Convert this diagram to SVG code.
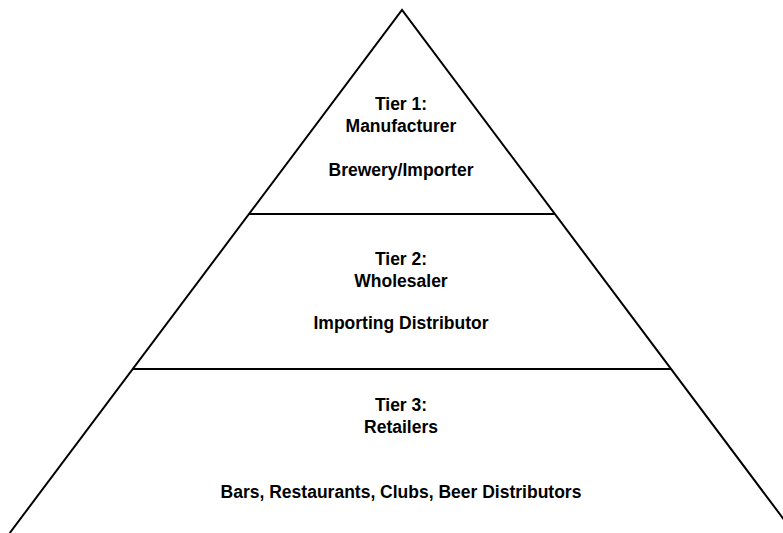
<svg xmlns="http://www.w3.org/2000/svg" width="783" height="533" viewBox="0 0 783 533">
<style>
.ln{stroke:#000;stroke-width:2;fill:none}
.t{font-family:"Liberation Sans",Arial,sans-serif;font-weight:bold;font-size:17.5px;text-anchor:middle;fill:#000}
</style>
<rect width="783" height="533" fill="#fff"/>
<g id="connectors">
<path class="ln" d="M9.75,533 L402,10 L794,533"/>
<line class="ln" x1="249" y1="214" x2="555" y2="214"/>
<line class="ln" x1="133" y1="369" x2="671" y2="369"/>
</g>
<g id="tier1">
<text class="t" x="401" y="110">Tier 1:</text>
<text class="t" x="401" y="132">Manufacturer</text>
<text class="t" x="401" y="176">Brewery/Importer</text>
</g>
<g id="tier2">
<text class="t" x="401" y="265">Tier 2:</text>
<text class="t" x="401" y="287">Wholesaler</text>
<text class="t" x="401" y="329">Importing Distributor</text>
</g>
<g id="tier3">
<text class="t" x="401" y="411">Tier 3:</text>
<text class="t" x="401" y="433">Retailers</text>
<text class="t" x="401" y="498">Bars, Restaurants, Clubs, Beer Distributors</text>
</g>
</svg>
